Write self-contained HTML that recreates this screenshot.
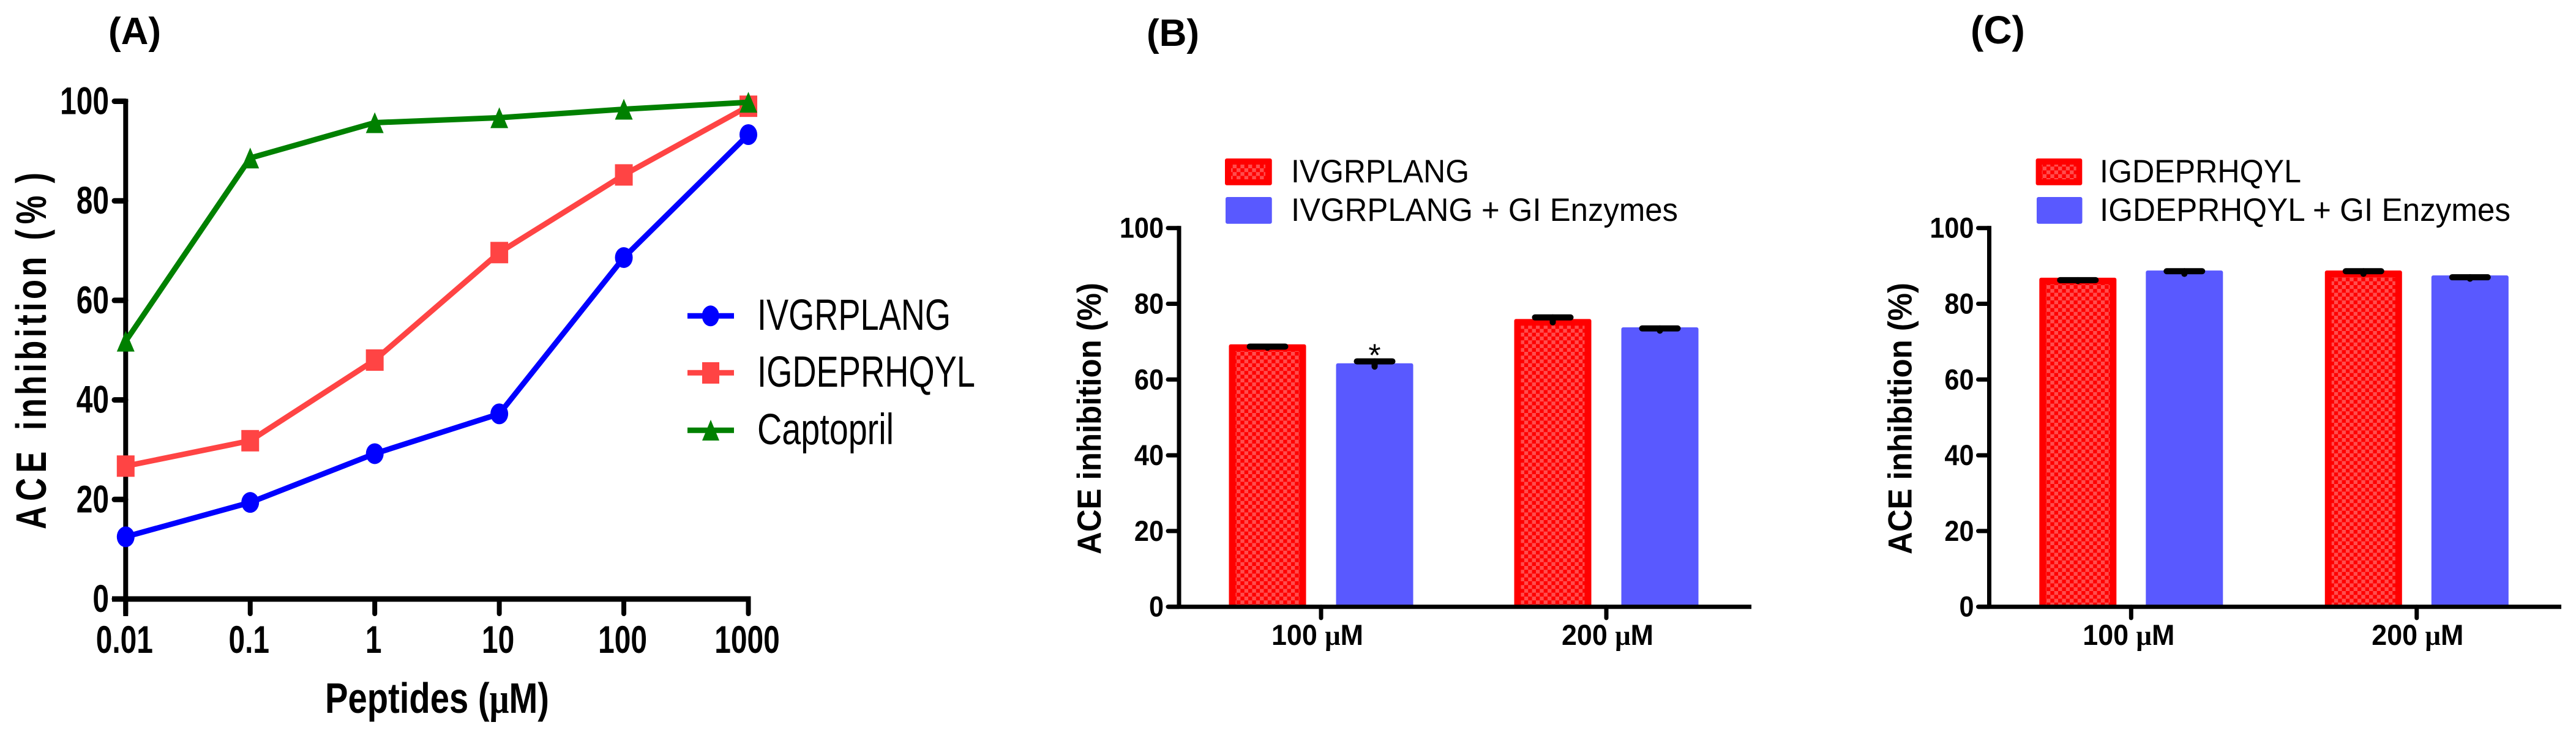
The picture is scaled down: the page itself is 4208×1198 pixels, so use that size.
<!DOCTYPE html>
<html lang="en">
<head>
<meta charset="utf-8">
<title>ACE inhibition of peptides</title>
<style>
html,body{margin:0;padding:0;background:#fff;}
svg{display:block;}
text{font-family:"Liberation Sans",sans-serif;fill:#000;}
.b{font-weight:bold;}
.mu{font-family:"Liberation Serif",serif;font-weight:bold;}
</style>
</head>
<body>
<svg id="figure" xmlns="http://www.w3.org/2000/svg" width="4208" height="1198" viewBox="0 0 4208 1198">
  <defs>
    <pattern id="checker-b" patternUnits="userSpaceOnUse" x="2020" y="575" width="12.7" height="12.5">
      <rect x="0" y="0" width="6.35" height="6.25" fill="#ff4d4d"/>
      <rect x="6.35" y="6.25" width="6.35" height="6.25" fill="#ff4d4d"/>
    </pattern>
    <pattern id="checker-c" patternUnits="userSpaceOnUse" x="3343" y="466" width="12.7" height="12.5">
      <rect x="0" y="0" width="6.35" height="6.25" fill="#ff4d4d"/>
      <rect x="6.35" y="6.25" width="6.35" height="6.25" fill="#ff4d4d"/>
    </pattern>
  </defs>
  <rect x="0" y="0" width="4208" height="1198" fill="#fff"/>

  <g id="panel-a">
    <text class="b" x="177" y="72" font-size="62">(A)</text>
    <text class="b" font-size="70" transform="translate(75,865) rotate(-90) scale(0.75,1)"><tspan x="0" letter-spacing="11">ACE </tspan><tspan x="216" letter-spacing="7">inhibition </tspan><tspan x="630">(</tspan><tspan x="665">%</tspan><tspan x="754">)</tspan></text>
    <text class="b" x="531" y="1165" font-size="70" textLength="366" lengthAdjust="spacingAndGlyphs">Peptides (<tspan class="mu">μ</tspan>M)</text>
    <g id="plot-a"></g>
    <g>
      <g>
        <line x1="1123" x2="1199" y1="516.3" y2="516.3" stroke="#0000ff" stroke-width="9"/>
        <ellipse cx="1160.7" cy="516.3" rx="14" ry="17" fill="#0000ff"/>
        <text x="1237" y="539" font-size="71" textLength="316" lengthAdjust="spacingAndGlyphs">IVGRPLANG</text>
      </g>
      <g>
        <line x1="1123" x2="1199" y1="609.3" y2="609.3" stroke="#ff4444" stroke-width="9"/>
        <rect x="1147" y="592" width="28" height="35" fill="#ff4444"/>
        <text x="1237" y="632" font-size="71" textLength="356" lengthAdjust="spacingAndGlyphs">IGDEPRHQYL</text>
      </g>
      <g>
        <line x1="1123" x2="1199" y1="703.3" y2="703.3" stroke="#008000" stroke-width="9"/>
        <polygon points="1161,686 1175,720 1147,720" fill="#008000"/>
        <text x="1237" y="726" font-size="71" textLength="223" lengthAdjust="spacingAndGlyphs">Captopril</text>
      </g>
    </g>
  </g>

  <g id="panel-b">
    <text class="b" x="1873" y="75" font-size="62">(B)</text>
    <text class="b" font-size="55" textLength="444" lengthAdjust="spacingAndGlyphs" transform="translate(1798,906) rotate(-90)">ACE inhibition (%)</text>
    <g>
      <g>
        <rect x="2001" y="259" width="76.7" height="43.7" rx="3" fill="#ff0000"/>
        <rect x="2011" y="269" width="56" height="24" fill="url(#checker-b)"/>
        <text x="2109" y="298" font-size="53" textLength="291" lengthAdjust="spacingAndGlyphs">IVGRPLANG</text>
      </g>
      <g>
        <rect x="2002" y="322" width="75.7" height="43.7" rx="3" fill="#5959ff"/>
        <text x="2109" y="361" font-size="53" textLength="632" lengthAdjust="spacingAndGlyphs">IVGRPLANG + GI Enzymes</text>
      </g>
    </g>
    <g id="plot-b"></g>
  </g>

  <g id="panel-c">
    <text class="b" x="3219" y="71" font-size="64">(C)</text>
    <text class="b" font-size="55" textLength="444" lengthAdjust="spacingAndGlyphs" transform="translate(3122.6,906) rotate(-90)">ACE inhibition (%)</text>
    <g>
      <g>
        <rect x="3325.6" y="259" width="75.7" height="43.7" rx="3" fill="#ff0000"/>
        <rect x="3335.6" y="269" width="56" height="24" fill="url(#checker-c)"/>
        <text x="3430" y="298" font-size="53" textLength="329" lengthAdjust="spacingAndGlyphs">IGDEPRHQYL</text>
      </g>
      <g>
        <rect x="3327" y="322" width="74.5" height="43.7" rx="3" fill="#5959ff"/>
        <text x="3430" y="361" font-size="53" textLength="671" lengthAdjust="spacingAndGlyphs">IGDEPRHQYL + GI Enzymes</text>
      </g>
    </g>
    <g id="plot-c"></g>
  </g>
</svg>

<script>
const doses = [0.01, 0.1, 1, 10, 100, 1000];
const doseLabels = ['0.01', '0.1', '1', '10', '100', '1000'];
const ivgrplangCurve = [12.5, 19.4, 29.2, 37.2, 68.6, 93.3];
const igdeprhqylCurve = [26.7, 31.8, 48.0, 69.6, 85.2, 99.0];
const captoprilCurve = [51.8, 88.6, 95.7, 96.7, 98.4, 99.8];
const percentTicks = [0, 20, 40, 60, 80, 100];

const concentrationLabels = ['100', '200'];
const panelBPeptide = [68.4, 75.1];
const panelBPeptideError = [0.3, 1.3];
const panelBDigested = [63.4, 72.9];
const panelBDigestedError = [1.4, 0.6];
const panelBDigestedMarks = ['*', ''];
const panelCPeptide = [86.0, 87.9];
const panelCPeptideError = [0.25, 0.7];
const panelCDigested = [87.9, 86.6];
const panelCDigestedError = [0.7, 0.4];
const panelCDigestedMarks = ['', ''];

const SVGNS = 'http://www.w3.org/2000/svg';
function make(parent, tag, attrs, text) {
  const el = document.createElementNS(SVGNS, tag);
  for (const k in attrs) el.setAttribute(k, attrs[k]);
  if (text !== undefined) el.textContent = text;
  parent.appendChild(el);
  return el;
}

/* ---------- Panel A: line chart ---------- */
(function () {
  const root = document.getElementById('plot-a');
  const xA = d => 205.3 + (Math.log10(d) - Math.log10(doses[0])) * 203.44;
  const yA = v => 979 - v * 8.135;

  const axes = make(root, 'g', {});
  
  

  const yLine = make(axes, 'line', { x1: xA(doses[0]), x2: xA(doses[0]), y1: yA(100) - 4, y2: 1007, stroke: '#000', 'stroke-width': 8 });
  
  
  const xLine = make(axes, 'line', { x1: 183, x2: xA(doses[doses.length - 1]) + 4, y1: yA(0), y2: yA(0), stroke: '#000', 'stroke-width': 9 });
  
  

  percentTicks.forEach(t => {
    const tick = make(axes, 'line', { x1: 187, x2: 205, y1: yA(t), y2: yA(t), stroke: '#000', 'stroke-width': 9, 'stroke-linecap': 'round' });
    
    
    const label = make(axes, 'text', { class: 'b', 'font-size': 63, 'text-anchor': 'end', transform: 'translate(178,' + (yA(t) + 21) + ') scale(0.76,1)' }, String(t));
    
    
  });

  doses.forEach((d, i) => {
    const tick = make(axes, 'line', { x1: xA(d), x2: xA(d), y1: yA(0), y2: 1003, stroke: '#000', 'stroke-width': 8, 'stroke-linecap': 'round' });
    
    
    const label = make(axes, 'text', { class: 'b', 'font-size': 63, 'text-anchor': 'middle', transform: 'translate(' + (xA(d) - 2) + ',1067) scale(0.76,1)' }, doseLabels[i]);
    
    
  });

  function polyPoints(values) {
    return values.map((v, i) => xA(doses[i]) + ',' + yA(v)).join(' ');
  }

  const blue = make(root, 'g', {});
  
  
  const blueLine = make(blue, 'polyline', { points: polyPoints(ivgrplangCurve), fill: 'none', stroke: '#0000ff', 'stroke-width': 9 });
  
  
  ivgrplangCurve.forEach((v, i) => {
    const p = make(blue, 'ellipse', { cx: xA(doses[i]), cy: yA(v), rx: 14.5, ry: 17, fill: '#0000ff' });
    
    
  });

  const red = make(root, 'g', {});
  
  
  const redLine = make(red, 'polyline', { points: polyPoints(igdeprhqylCurve), fill: 'none', stroke: '#ff4444', 'stroke-width': 9 });
  
  
  igdeprhqylCurve.forEach((v, i) => {
    const p = make(red, 'rect', { x: xA(doses[i]) - 14.5, y: yA(v) - 17.5, width: 29, height: 35, fill: '#ff4444' });
    
    
  });

  const green = make(root, 'g', {});
  
  
  const greenLine = make(green, 'polyline', { points: polyPoints(captoprilCurve), fill: 'none', stroke: '#008000', 'stroke-width': 9 });
  
  
  captoprilCurve.forEach((v, i) => {
    const cx = xA(doses[i]), cy = yA(v);
    const p = make(green, 'polygon', { points: cx + ',' + (cy - 17) + ' ' + (cx + 14.5) + ',' + (cy + 17) + ' ' + (cx - 14.5) + ',' + (cy + 17), fill: '#008000' });
    
    
  });
})();

/* ---------- Panels B and C: bar charts ---------- */
function drawBars(cfg) {
  const root = document.getElementById(cfg.rootId);
  const yB = v => 991.7 - v * 6.19;
  const xB = i => cfg.tick0 + i * cfg.step;
  const half = 63;

  const bars = make(root, 'g', {});
  
  

  function bar(cx, value, error, isPeptide, mark) {
    const top = yB(value) - 5.5;
    const outer = make(bars, 'rect', { x: cx - half, y: top, width: half * 2, height: yB(0) - top, rx: 3, fill: isPeptide ? '#ff0000' : '#5959ff' });
    
    
    if (isPeptide) {
      const inner = make(bars, 'rect', { x: cx - half + 11, y: top + 11, width: half * 2 - 22, height: yB(0) - top - 11, fill: 'url(#' + cfg.pattern + ')' });
      
      
    }
    const stem = make(bars, 'line', { x1: cx, x2: cx, y1: yB(value), y2: yB(value + error), stroke: '#000', 'stroke-width': 10, 'stroke-linecap': 'round' });
    
    
    const cap = make(bars, 'line', { x1: cx - 29, x2: cx + 29, y1: yB(value + error), y2: yB(value + error), stroke: '#000', 'stroke-width': 10, 'stroke-linecap': 'round' });
    
    
    if (mark) {
      const star = make(bars, 'text', { x: cx, y: yB(value + error) + 8, 'font-size': 52, 'text-anchor': 'middle' }, mark);
      
      
    }
  }

  cfg.categories.forEach((c, i) => {
    bar(xB(i) - cfg.offset, cfg.peptide[i], cfg.peptideError[i], true, '');
    bar(xB(i) + cfg.offset, cfg.digested[i], cfg.digestedError[i], false, cfg.marks[i]);
  });

  const axes = make(root, 'g', {});
  
  

  const yLine = make(axes, 'line', { x1: cfg.axisX, x2: cfg.axisX, y1: yB(100) - 3.5, y2: yB(0), stroke: '#000', 'stroke-width': 7 });
  
  
  const xLine = make(axes, 'line', { x1: cfg.axisX - 18, x2: cfg.axisEnd, y1: yB(0), y2: yB(0), stroke: '#000', 'stroke-width': 7 });
  
  

  percentTicks.forEach(t => {
    const tick = make(axes, 'line', { x1: cfg.axisX - 18, x2: cfg.axisX, y1: yB(t), y2: yB(t), stroke: '#000', 'stroke-width': 7, 'stroke-linecap': 'round' });
    
    
    const label = make(axes, 'text', { class: 'b', 'font-size': 47, 'text-anchor': 'end', transform: 'translate(' + (cfg.axisX - 25) + ',' + (yB(t) + 16) + ') scale(0.92,1)' }, String(t));
    
    
  });

  cfg.categories.forEach((c, i) => {
    const tick = make(axes, 'line', { x1: xB(i), x2: xB(i), y1: yB(0), y2: 1010, stroke: '#000', 'stroke-width': 7, 'stroke-linecap': 'round' });
    
    
    const label = make(axes, 'text', { class: 'b', x: xB(i) + cfg.labelDx[i] - 75, y: 1054, 'font-size': 47, textLength: 150, lengthAdjust: 'spacingAndGlyphs' }, c + ' ');
    
    
    make(label, 'tspan', { class: 'mu' }, 'μ');
    make(label, 'tspan', {}, 'M');
  });
}

drawBars({
  rootId: 'plot-b', pattern: 'checker-b', tick0: 2158, step: 466, offset: 87.5,
  axisX: 1926, axisEnd: 2861, labelDx: [-6, 2],
  categories: concentrationLabels, peptide: panelBPeptide, peptideError: panelBPeptideError,
  digested: panelBDigested, digestedError: panelBDigestedError, marks: panelBDigestedMarks
});
drawBars({
  rootId: 'plot-c', pattern: 'checker-c', tick0: 3481.3, step: 466.5, offset: 87,
  axisX: 3249.5, axisEnd: 4184, labelDx: [-4, 1.5],
  categories: concentrationLabels, peptide: panelCPeptide, peptideError: panelCPeptideError,
  digested: panelCDigested, digestedError: panelCDigestedError, marks: panelCDigestedMarks
});
</script>
</body>
</html>
